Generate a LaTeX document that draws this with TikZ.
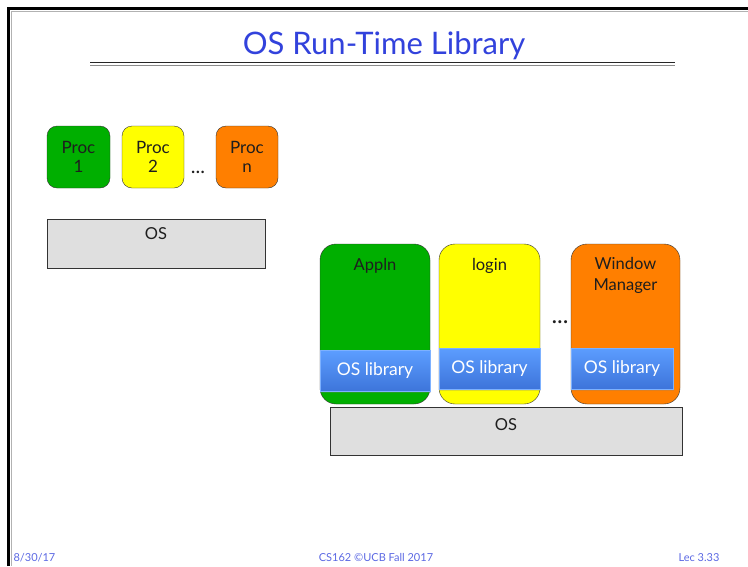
\documentclass[tikz,border=0pt]{standalone}
\usepackage{fontspec}
\setmainfont{Lato}
\usetikzlibrary{shadows}

\definecolor{slideblue}{HTML}{3242DC}
\definecolor{procgreen}{HTML}{00AF00}
\definecolor{procyellow}{HTML}{FFFF00}
\definecolor{procorange}{HTML}{FF7F00}
\definecolor{osgray}{HTML}{DFDFDF}
\definecolor{libtop}{HTML}{5C9DFF}
\definecolor{libbot}{HTML}{3D74DA}
\definecolor{boxtext}{HTML}{1E1E1E}

\tikzset{
  procbox/.style={draw=black!80, rounded corners=10pt, minimum width=63pt,
    minimum height=62pt, align=center, text=boxtext,
    font=\fontsize{17}{19}\selectfont},
  appbox/.style={draw=black!80, rounded corners=16pt, minimum height=160pt},
  libbox/.style={top color=libtop, bottom color=libbot, draw=libtop!80!white,
    minimum height=41pt, text=white, font=\fontsize{17.5}{20}\selectfont,
    drop shadow={opacity=0.25, shadow xshift=1pt, shadow yshift=-1.5pt}},
  osbox/.style={draw=black!80, fill=osgray},
  boxlabel/.style={text=boxtext, align=center, font=\fontsize{16.5}{21}\selectfont},
  dots/.style={text=boxtext, font=\fontsize{24}{24}\selectfont},
  foot/.style={text=slideblue!80, font=\fontsize{11}{13}\selectfont}
}

\begin{document}
\begin{tikzpicture}[x=1pt, y=-1pt]
  \useasboundingbox (0,0) rectangle (748,566);
  % slide frame
  \draw[line width=3pt] (8.5,566) -- (8.5,8.5) -- (748,8.5);
  \draw[black!30, line width=0.6pt] (11,566) -- (11,11) -- (748,11);

  % title and rule
  \node[text=slideblue, font=\fontsize{31}{36}\selectfont] (title) at (384,45.5) {OS Run-Time Library};
  \draw[black!85, line width=1.2pt] (90,62.5) -- (675,62.5);
  \draw[black!45, line width=0.8pt] (90,65.5) -- (675,65.5);

  % processes on top of one OS
  \node[procbox, fill=procgreen] (proc1) at (78.5,157) {Proc\\1};
  \node[procbox, fill=procyellow, minimum width=62pt] (proc2) at (153,157) {Proc\\2};
  \node[procbox, fill=procorange, minimum width=62pt] (procn) at (247,157) {Proc\\n};
  \node[dots, font=\fontsize{20}{20}\selectfont] (dotsa) at (198,172) {...};
  \node[osbox, minimum width=218pt, minimum height=49pt] (osa) at (156,243.5) {};
  \node[boxlabel, anchor=north] (osalabel) at ([yshift=-5pt]osa.north) {OS};

  % applications linked with the OS library
  \node[appbox, fill=procgreen, minimum width=110pt] (appln) at (375,324) {};
  \node[appbox, fill=procyellow, minimum width=101pt] (login) at (489.5,324) {};
  \node[appbox, fill=procorange, minimum width=109pt] (winmgr) at (625.5,324) {};
  \node[boxlabel, anchor=north] (applnlabel) at ([yshift=-11pt]appln.north) {Appln};
  \node[boxlabel, anchor=north] (loginlabel) at ([yshift=-11pt]login.north) {login};
  \node[boxlabel, anchor=north] (winmgrlabel) at ([yshift=-10pt]winmgr.north) {Window\\Manager};
  \node[dots] (dotsb) at (560,322) {...};

  \node[libbox, minimum width=110pt] (liba) at (375,371) {OS library};
  \node[libbox, minimum width=101pt] (libb) at (489.5,368.5) {OS library};
  \node[libbox, minimum width=102pt] (libc) at (622,368.5) {OS library};

  \node[osbox, minimum width=352pt, minimum height=48pt] (osb) at (506,431) {};
  \node[boxlabel, anchor=north] (osblabel) at ([yshift=-8pt]osb.north) {OS};

  % footer
  \node[foot, anchor=base west] (date) at (10,561) {8/30/17};
  \node[foot, anchor=base] (course) at (376,561) {CS162 ©UCB Fall 2017};
  \node[foot, anchor=base east] (lec) at (723,561) {Lec 3.33};
\end{tikzpicture}
\end{document}
